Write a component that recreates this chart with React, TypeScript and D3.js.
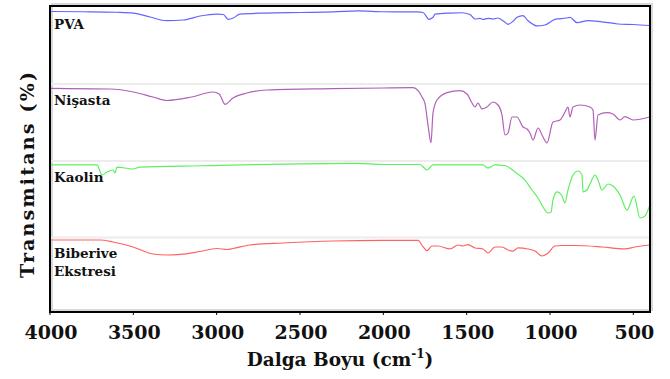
import React from "react";
import * as d3 from "d3";

// [wavenumber (cm-1), transmittance within its panel]
const pva: [number, number][] = [
  [4000, 92.8], [3800, 92.5], [3600, 91.8], [3500, 90.8], [3400, 85.6], [3300, 80.8],
  [3200, 81.7], [3100, 86.9], [3000, 89.5], [2960, 88.9], [2932, 82.6], [2900, 84.3],
  [2860, 89.5], [2700, 90.8], [2500, 91.5], [2300, 92.2], [2152, 93.7], [2000, 92.5],
  [1800, 92.2], [1762, 91.5], [1726, 82.6], [1700, 85.6], [1690, 89.5], [1600, 90.8],
  [1528, 91.2], [1480, 88.9], [1450, 83.0], [1420, 83.7], [1400, 82.4], [1372, 83.9],
  [1340, 83.0], [1312, 84.3], [1280, 80.4], [1252, 76.1], [1220, 80.4], [1198, 85.2],
  [1162, 87.3], [1132, 80.8], [1100, 75.8], [1078, 73.9], [1030, 75.2], [970, 82.6],
  [900, 84.3], [880, 85.2], [838, 78.2], [772, 80.8], [700, 79.7], [592, 76.5],
  [500, 75.8], [400, 74.5],
];

const nisasta: [number, number][] = [
  [4000, 92.4], [3640, 91.5], [3500, 87.6], [3382, 81.0], [3298, 76.5], [3150, 81.0],
  [3022, 87.6], [2985, 84.9], [2950, 71.5], [2902, 79.7], [2818, 86.3], [2698, 90.2],
  [2302, 91.9], [2000, 92.8], [1822, 93.2], [1790, 89.0], [1768, 81.0], [1750, 72.4],
  [1732, 44.4], [1714, 21.3], [1702, 60.1], [1678, 77.1], [1618, 86.7], [1540, 89.3],
  [1498, 85.0], [1468, 73.2], [1450, 68.0], [1432, 73.2], [1408, 65.4], [1378, 68.0],
  [1342, 74.5], [1312, 70.6], [1288, 57.5], [1270, 31.4], [1252, 34.0], [1228, 54.9],
  [1198, 54.9], [1162, 41.8], [1138, 39.2], [1120, 34.0], [1102, 24.8], [1072, 40.5],
  [1042, 28.8], [1018, 20.9], [982, 48.4], [940, 51.0], [910, 61.4], [892, 68.0],
  [880, 54.9], [862, 68.0], [820, 70.6], [760, 68.0], [742, 64.1], [730, 24.8],
  [712, 57.5], [658, 60.5], [622, 58.8], [580, 51.0], [550, 55.3], [502, 51.0],
  [400, 54.9],
];

const kaolin: [number, number][] = [
  [4000, 92.2], [3718, 92.2], [3688, 79.1], [3658, 83.0], [3622, 85.6], [3610, 81.7],
  [3598, 89.5], [3502, 86.9], [3460, 89.5], [3100, 91.2], [2158, 94.4], [2000, 92.8],
  [1780, 92.8], [1738, 85.6], [1702, 92.2], [1402, 92.2], [1372, 88.2], [1330, 92.2],
  [1270, 91.5], [1210, 83.0], [1150, 72.5], [1108, 59.5], [1072, 49.0], [1042, 37.3],
  [1012, 29.4], [994, 30.7], [982, 46.4], [958, 56.9], [928, 51.6], [910, 42.5],
  [892, 59.5], [862, 79.1], [832, 84.3], [808, 79.1], [802, 56.9], [778, 59.5],
  [760, 67.3], [730, 79.1], [712, 72.5], [688, 59.5], [652, 67.3], [622, 64.7],
  [580, 52.9], [538, 33.3], [496, 51.6], [460, 22.9], [430, 25.5], [412, 33.3],
  [400, 39.9],
];

const biberive: [number, number][] = [
  [4000, 94.1], [3700, 94.1], [3622, 91.5], [3502, 85.0], [3382, 75.8], [3298, 74.5],
  [3220, 75.2], [3100, 79.1], [2998, 83.0], [2938, 81.7], [2902, 83.0], [2800, 87.6],
  [2602, 90.2], [2302, 92.8], [2000, 93.5], [1792, 93.5], [1762, 85.4], [1738, 80.1],
  [1708, 86.3], [1672, 86.3], [1600, 82.4], [1552, 87.6], [1522, 86.3], [1492, 88.2],
  [1450, 83.7], [1402, 82.4], [1372, 77.1], [1330, 85.0], [1288, 85.0], [1252, 81.0],
  [1222, 79.7], [1192, 83.7], [1132, 82.4], [1090, 79.7], [1048, 73.2], [1012, 77.1],
  [970, 86.3], [928, 86.9], [850, 86.9], [688, 85.0], [550, 82.4], [490, 85.0],
  [400, 87.6],
];

const seriesNames = ["PVA", "Nişasta", "Kaolin", "Biberive\nEkstresi"];
const seriesData = [pva, nisasta, kaolin, biberive];
const seriesOffsets = [300, 200, 100, 0];
const seriesColors = ["#6464ff", "#b060b8", "#5ef05e", "#ff6262"];
const separatorLevels = [298, 197.5, 97.5];
const xTicks = [4000, 3500, 3000, 2500, 2000, 1500, 1000, 500];

const W = 670;
const H = 379;
const M = { left: 50, right: 650, top: 6, bottom: 312 };
const FONT = "'DejaVu Serif', serif";

export default function App() {
  const x = d3.scaleLinear().domain([4000, 400]).range([M.left, M.right]);
  const y = d3.scaleLinear().domain([0, 400]).range([M.bottom, M.top]);

  return (
    <svg width={W} height={H} style={{ position: "absolute", left: 0, top: 0, background: "#fff" }}>
      <rect x={M.left + 2} y={M.top - 2} width={M.right - M.left} height={M.bottom - M.top}
        fill="none" stroke="#d8d8d8" strokeWidth={2} />
      {separatorLevels.map((s, i) => (
        <line key={i} x1={M.left} x2={M.right} y1={y(s)} y2={y(s)} stroke="#ececec" strokeWidth={2} />
      ))}
      {seriesData.map((data, i) => {
        const line = d3.line<[number, number]>()
          .x((d) => x(d[0]))
          .y((d) => y(d[1] + seriesOffsets[i]))
          .curve(d3.curveMonotoneX);
        return (
          <path key={i} d={line(data) || ""} fill="none" stroke={seriesColors[i]} strokeWidth={1.2} />
        );
      })}
      {seriesNames.map((name, i) => (
        <text key={i} x={M.left + 4} y={y(seriesOffsets[i] + 70)} style={{ fontFamily: FONT }} fontWeight="bold"
          fontSize={13.5} fill="#111">
          {name.split("\n").map((ln, j) => (
            <tspan key={j} x={M.left + 4} dy={j === 0 ? 0 : 17.5}>{ln}</tspan>
          ))}
        </text>
      ))}
      <rect x={M.left} y={M.top} width={M.right - M.left} height={M.bottom - M.top}
        fill="none" stroke="#000" strokeWidth={2} />
      {xTicks.map((t) => (
        <g key={t}>
          <line x1={x(t)} x2={x(t)} y1={M.bottom} y2={M.bottom + 3} stroke="#000" strokeWidth={1} />
          <text x={x(t) + 1} y={339} textAnchor="middle" style={{ fontFamily: FONT }} fontWeight="bold" fontSize={19} fill="#111">
            {t}
          </text>
        </g>
      ))}
      <text x={340} y={366} textAnchor="middle" style={{ fontFamily: FONT }} fontWeight="bold" fontSize={18.5} fill="#111">
        Dalga Boyu (cm
        <tspan fontSize={12} dy={-8}>-1</tspan>
        <tspan dy={8}>)</tspan>
      </text>
      <text transform="translate(33.5,174) rotate(-90)" textAnchor="middle" style={{ fontFamily: FONT }}
        fontWeight="bold" fontSize={19} letterSpacing={2.2} fill="#111">
        Transmitans (%)
      </text>
    </svg>
  );
}
